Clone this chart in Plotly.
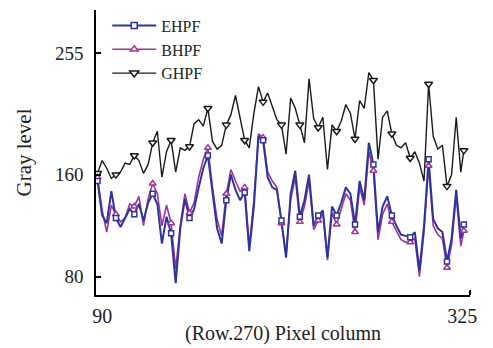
import plotly.graph_objects as go

pixel_column = list(range(87, 325, 3)) + [326]

ehpf = [155, 128, 122, 147, 126, 119, 126, 133, 129, 137, 124, 138, 145, 137, 106, 127, 114, 75, 118, 141,
        126, 133, 150, 165, 175, 145, 118, 106, 140, 160, 148, 140, 146, 100, 135, 190, 187, 158, 150, 148,
        124, 95, 145, 163, 127, 140, 160, 120, 128, 132, 95, 135, 128, 138, 150, 145, 121, 155, 140, 185,
        168, 115, 135, 143, 128, 120, 113, 112, 111, 115, 85, 120, 172, 125, 118, 115, 92, 110, 148, 110, 121]

bhpf = [158, 132, 115, 136, 129, 123, 126, 137, 135, 143, 120, 141, 153, 145, 120, 136, 122, 86, 120, 145,
        130, 138, 158, 172, 181, 150, 125, 112, 145, 164, 155, 147, 150, 104, 140, 192, 189, 162, 155, 150,
        122, 97, 140, 158, 123, 135, 155, 117, 124, 130, 93, 130, 121, 134, 145, 140, 115, 150, 136, 178,
        163, 109, 129, 137, 123, 116, 109, 107, 107, 110, 80, 115, 167, 120, 113, 110, 87, 105, 143, 104, 116]

ghpf = [161, 171, 165, 157, 160, 162, 169, 168, 175, 171, 161, 168, 185, 194, 158, 178, 187, 162, 181, 179,
        182, 200, 203, 198, 212, 186, 180, 183, 199, 207, 222, 205, 187, 181, 208, 229, 217, 224, 214, 203,
        199, 176, 220, 212, 199, 185, 235, 204, 197, 205, 164, 199, 194, 202, 215, 208, 188, 218, 212, 240,
        234, 172, 205, 210, 192, 183, 181, 185, 173, 178, 169, 155, 231, 190, 180, 183, 151, 160, 205, 162, 179]

series_names = ["EHPF", "BHPF", "GHPF"]
x_tick_vals = [90, 325]
y_tick_vals = [80, 160, 255]
marker_every = 4

colors = {"EHPF": "#2b35a0", "BHPF": "#a3329a", "GHPF": "#1a1a1a"}
symbols = {"EHPF": "square", "BHPF": "triangle-up", "GHPF": "triangle-down"}
widths = {"EHPF": 2.0, "BHPF": 1.6, "GHPF": 1.4}
msize = {"EHPF": 5, "BHPF": 6, "GHPF": 7}
data = {"EHPF": ehpf, "BHPF": bhpf, "GHPF": ghpf}

serif = "Liberation Serif, Times New Roman, serif"
fig = go.Figure()

# legend-only entries
for name in series_names:
    fig.add_trace(go.Scatter(
        x=[None], y=[None], mode="lines+markers", name=name,
        line=dict(color=colors[name], width=widths[name]),
        marker=dict(symbol=symbols[name], size=msize[name] + 1, color="white",
                    line=dict(color=colors[name], width=1.5)),
    ))

for name in ["GHPF", "BHPF", "EHPF"]:
    fig.add_trace(go.Scatter(
        x=pixel_column, y=data[name], mode="lines", showlegend=False,
        line=dict(color=colors[name], width=widths[name]),
    ))
for name in ["GHPF", "BHPF", "EHPF"]:
    fig.add_trace(go.Scatter(
        x=pixel_column[::marker_every], y=data[name][::marker_every], mode="markers", showlegend=False,
        marker=dict(symbol=symbols[name], size=msize[name], color="white",
                    line=dict(color=colors[name], width=1.5)),
    ))

fig.update_layout(
    width=493, height=348,
    margin=dict(l=96, r=23, t=10, b=53, autoexpand=False),
    paper_bgcolor="white", plot_bgcolor="white",
    font=dict(family=serif, size=20, color="#222"),
    showlegend=True,
    legend=dict(x=0.03, y=1.005, xanchor="left", yanchor="top", bgcolor="rgba(0,0,0,0)",
                font=dict(family=serif, size=16, color="#222"), itemwidth=44,
                tracegroupgap=0),
    xaxis=dict(range=[86, 330], tickvals=x_tick_vals, ticks="", showgrid=False, zeroline=False,
               showline=True, linecolor="black", linewidth=1.5, ticklabelstandoff=2,
               automargin=False,
               title=dict(text="(Row.270) Pixel column", standoff=0, font=dict(size=20)),
               tickfont=dict(size=20),
               minor=dict(tickvals=[330], ticks="inside", ticklen=5, tickcolor="black", tickwidth=1.5)),
    yaxis=dict(range=[65.7, 289], tickvals=y_tick_vals, ticks="inside", ticklen=5, tickwidth=1.5,
               tickcolor="black", showgrid=False, zeroline=False, showline=True, linecolor="black",
               linewidth=1.5, ticklabelstandoff=7, automargin=False,
               title=dict(text="Gray level", standoff=18, font=dict(size=21)),
               tickfont=dict(size=19)),
)

fig.write_html("out.html", config={"displayModeBar": False},
               post_script="document.body.style.margin='0';document.body.style.padding='0';")
